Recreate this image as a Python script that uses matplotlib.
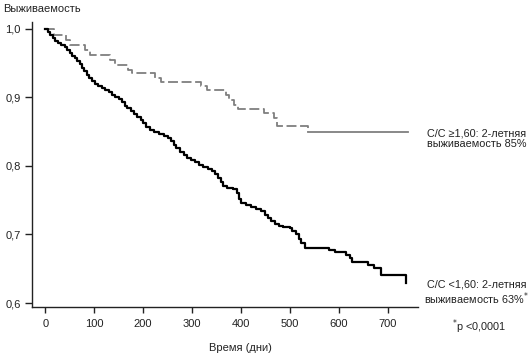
import matplotlib.pyplot as plt

plt.rcParams['font.family'] = ['Liberation Sans', 'DejaVu Sans']

# C/C >= 1,60 (grey, dashed)
highTime = [0, 17, 43, 50, 82, 92, 133, 143, 170, 178, 225, 236, 318, 331,
            369, 375, 385, 393, 446, 467, 473, 536]
highSurv = [1.000, 0.991, 0.984, 0.977, 0.969, 0.962, 0.955, 0.947, 0.940, 0.935,
            0.928, 0.923, 0.916, 0.911, 0.904, 0.896, 0.889, 0.883, 0.877, 0.870,
            0.858, 0.849]
highEnd = 740

# C/C < 1,60 (black)
lowTime = [0, 5, 10, 15, 20, 27, 33, 40, 45, 50, 55, 60, 65, 70, 75, 80, 85, 90,
           95, 102, 108, 115, 122, 130, 137, 143, 150, 156, 162, 168, 175, 182,
           188, 195, 200, 206, 213, 222, 232, 242, 250, 256, 262, 268, 275, 283,
           290, 298, 306, 315, 323, 332, 340, 346, 352, 358, 364, 372, 384, 392,
           396, 400, 410, 420, 430, 440, 448, 455, 462, 470, 478, 485, 500, 505,
           512, 518, 523, 530, 580, 592, 615, 622, 627, 660, 672, 686, 736]
lowSurv = [1.000, 0.996, 0.991, 0.986, 0.982, 0.980, 0.977, 0.973, 0.969, 0.965,
           0.961, 0.957, 0.953, 0.948, 0.943, 0.938, 0.933, 0.928, 0.924, 0.920,
           0.917, 0.914, 0.911, 0.908, 0.904, 0.900, 0.897, 0.893, 0.888, 0.884,
           0.880, 0.876, 0.872, 0.867, 0.862, 0.857, 0.853, 0.850, 0.847, 0.844,
           0.841, 0.836, 0.831, 0.826, 0.821, 0.816, 0.812, 0.808, 0.805, 0.802,
           0.799, 0.796, 0.793, 0.788, 0.782, 0.776, 0.770, 0.768, 0.767, 0.760,
           0.752, 0.746, 0.743, 0.740, 0.737, 0.734, 0.728, 0.724, 0.720, 0.716,
           0.712, 0.711, 0.709, 0.705, 0.700, 0.694, 0.688, 0.680, 0.677, 0.674,
           0.670, 0.665, 0.660, 0.656, 0.651, 0.641, 0.629]

xTicks = [0, 100, 200, 300, 400, 500, 600, 700]
yTicks = [0.6, 0.7, 0.8, 0.9, 1.0]
yLabels = ['0,6', '0,7', '0,8', '0,9', '1,0']

fig = plt.figure(figsize=(5.31, 3.54), dpi=100)
ax = fig.add_axes([0.0603, 0.1328, 0.7266, 0.8055])

grey = '#7f7f7f'
txt = '#222222'

# grey curve: dashed while events occur, solid tail after last event
ax.step(highTime, highSurv, where='post', color=grey, lw=1.3,
        linestyle=(0, (5.5, 2)))
ax.plot([highTime[-1], highEnd], [highSurv[-1], highSurv[-1]], color=grey, lw=1.3)

ax.step(lowTime, lowSurv, where='post', color='black', lw=1.6)

ax.set_xlim(-27, 761)
ax.set_ylim(0.5942, 1.0102)
ax.set_xticks(xTicks)
ax.set_yticks(yTicks)
ax.set_yticklabels(yLabels)
ax.spines['top'].set_visible(False)
ax.spines['right'].set_visible(False)
for s in ['left', 'bottom']:
    ax.spines[s].set_linewidth(1.0)
    ax.spines[s].set_color(txt)
ax.tick_params(axis='both', direction='out', length=5, width=1.0, colors=txt,
               labelsize=8, pad=3)
ax.tick_params(axis='x', length=4, pad=5)

ax.set_xlabel('Время (дни)', fontsize=8, color=txt)
ax.xaxis.set_label_coords(0.54, -0.125)

fig.text(0.006, 0.975, 'Выживаемость', fontsize=8, color=txt, ha='left', va='center')

fig.text(0.897, 0.608, 'C/C ≥1,60: 2-летняя\nвыживаемость 85%', fontsize=7.8,
         color=txt, ha='center', va='center', linespacing=1.1)
fig.text(0.897, 0.172, 'C/C <1,60: 2-летняя\nвыживаемость 63%$^{*}$', fontsize=7.8,
         color=txt, ha='center', va='center', linespacing=1.1)
fig.text(0.903, 0.077, '$^{*}$p <0,0001', fontsize=7.8, color=txt,
         ha='center', va='center')

fig.savefig('out.png', dpi=100)
